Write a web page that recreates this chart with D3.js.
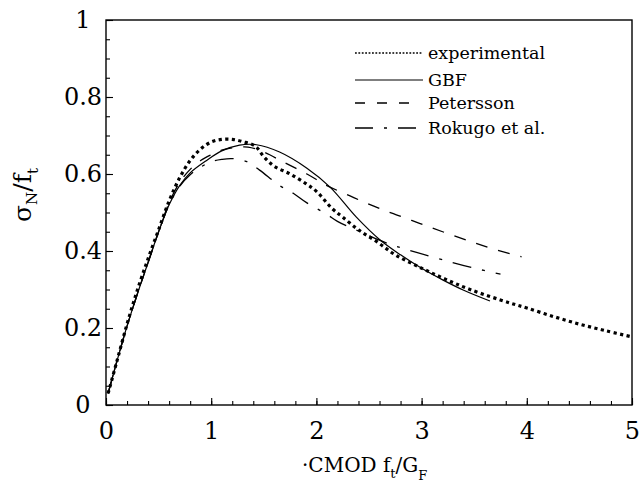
<!DOCTYPE html>
<html>
<head>
<meta charset="utf-8">
<script src="https://cdn.jsdelivr.net/npm/d3@7"></script>
<style>
  html, body { margin: 0; padding: 0; background: #fff; }
  svg { display: block; }
  svg text { font-family: "DejaVu Serif", "Liberation Serif", "Noto Serif", serif; }
</style>
</head>
<body>
<div id="chart"></div>
<script>
// values: [CMOD ft/GF, sigmaN/ft]
const experimental = [
  [0.02, 0.03], [0.1, 0.11], [0.2, 0.21], [0.3, 0.30], [0.4, 0.38], [0.5, 0.455],
  [0.6, 0.53], [0.7, 0.59], [0.8, 0.635], [0.9, 0.665], [1.0, 0.683], [1.1, 0.69],
  [1.2, 0.69], [1.3, 0.684], [1.42, 0.672], [1.5, 0.645], [1.6, 0.62], [1.75, 0.60],
  [1.9, 0.575], [2.0, 0.555], [2.15, 0.51], [2.25, 0.488], [2.4, 0.455], [2.58, 0.423],
  [2.75, 0.39], [2.98, 0.358], [3.2, 0.33], [3.46, 0.30], [3.84, 0.265], [4.0, 0.252],
  [4.25, 0.23], [4.5, 0.21], [4.75, 0.193], [5.0, 0.177]
];
const gbf = [
  [0.02, 0.03], [0.1, 0.11], [0.2, 0.205], [0.3, 0.29], [0.4, 0.37], [0.5, 0.45],
  [0.6, 0.52], [0.7, 0.57], [0.8, 0.603], [0.96, 0.636], [1.1, 0.66], [1.27, 0.675],
  [1.43, 0.676], [1.65, 0.657], [1.91, 0.615], [2.13, 0.566], [2.38, 0.488], [2.6, 0.43],
  [2.8, 0.39], [3.0, 0.355], [3.2, 0.325], [3.4, 0.298], [3.65, 0.27]
];
const petersson = [
  [0.02, 0.03], [0.1, 0.11], [0.2, 0.205], [0.3, 0.29], [0.4, 0.37], [0.5, 0.45],
  [0.6, 0.525], [0.7, 0.578], [0.8, 0.612], [0.9, 0.635], [1.0, 0.65], [1.1, 0.662],
  [1.21, 0.668], [1.35, 0.67], [1.5, 0.657], [1.68, 0.632], [1.91, 0.60], [2.1, 0.57],
  [2.32, 0.543], [2.54, 0.517], [2.76, 0.494], [2.98, 0.472], [3.2, 0.45], [3.43, 0.428],
  [3.65, 0.408], [3.95, 0.385]
];
const rokugo = [
  [0.02, 0.03], [0.1, 0.11], [0.2, 0.205], [0.3, 0.29], [0.4, 0.37], [0.5, 0.45],
  [0.6, 0.52], [0.7, 0.568], [0.8, 0.598], [0.9, 0.618], [1.0, 0.632], [1.1, 0.638],
  [1.2, 0.64], [1.34, 0.632], [1.46, 0.61], [1.65, 0.57], [1.78, 0.55], [1.91, 0.525],
  [2.1, 0.495], [2.2, 0.477], [2.4, 0.452], [2.6, 0.428], [2.76, 0.412], [2.96, 0.396],
  [3.2, 0.377], [3.49, 0.356], [3.75, 0.34]
];

const seriesNames = ['experimental', 'GBF', 'Petersson', 'Rokugo et al.'];
const xTicks = [0, 1, 2, 3, 4, 5];
const yTicks = [0, 0.2, 0.4, 0.6, 0.8, 1];
const yTickLabels = ['0', '0.2', '0.4', '0.6', '0.8', '1'];

const width = 639, height = 489;
const margin = { top: 20, right: 7, bottom: 84, left: 106 };
const W = width - margin.left - margin.right;
const H = height - margin.top - margin.bottom;

const svg = d3.select('#chart').append('svg')
  .attr('width', width).attr('height', height);

const g = svg.append('g').attr('transform', `translate(${margin.left},${margin.top})`);

const x = d3.scaleLinear().domain([0, 5]).range([0, W]);
const y = d3.scaleLinear().domain([0, 1]).range([H, 0]);

// minor ticks
g.append('g').attr('transform', `translate(0,${H})`)
  .call(d3.axisBottom(x).tickValues(d3.range(0, 5.001, 0.2)).tickSize(-4).tickFormat(''))
  .call(a => a.select('.domain').remove());
g.append('g')
  .call(d3.axisLeft(y).tickValues(d3.range(0, 1.001, 0.05)).tickSize(-4).tickFormat(''))
  .call(a => a.select('.domain').remove());

// major ticks + labels
const xAxis = g.append('g').attr('transform', `translate(0,${H})`)
  .call(d3.axisBottom(x).tickValues(xTicks).tickSize(-7).tickPadding(17).tickFormat(d3.format('d')));
xAxis.select('.domain').remove();

const yAxis = g.append('g')
  .call(d3.axisLeft(y).tickValues(yTicks).tickSize(-7).tickPadding(0)
    .tickFormat((d, i) => yTickLabels[i]));
yAxis.select('.domain').remove();
yAxis.selectAll('text').attr('text-anchor', 'middle').attr('x', -23).attr('dy', '0.33em');

svg.selectAll('g').attr('font-family', null);
g.selectAll('.tick text').attr('font-size', '24px').attr('fill', '#000');
g.selectAll('.tick line').attr('stroke', '#000').attr('stroke-width', 1.1);

// frame
g.append('rect')
  .attr('x', 0).attr('y', 0).attr('width', W).attr('height', H)
  .attr('fill', 'none').attr('stroke', '#000').attr('stroke-width', 1.4);

// curves
const line = d3.line()
  .x(d => x(d[0])).y(d => y(d[1]))
  .curve(d3.curveCatmullRom.alpha(0.5));

const styles = [
  { data: experimental, width: 3.2, dash: '3.2,3.4', legendWidth: 1.6, legendDash: '1.8,1.6' },
  { data: gbf, width: 1.2, dash: null, legendWidth: 1.2, legendDash: null },
  { data: petersson, width: 1.3, dash: '12,11', legendWidth: 1.6, legendDash: '10,12' },
  { data: rokugo, width: 1.3, dash: '19,11,3,11', legendWidth: 1.6, legendDash: '18,11,3,11' }
];

styles.forEach(s => {
  g.append('path')
    .datum(s.data)
    .attr('d', line)
    .attr('fill', 'none')
    .attr('stroke', '#000')
    .attr('stroke-width', s.width)
    .attr('stroke-dasharray', s.dash);
});

// legend
const legend = svg.append('g').attr('transform', 'translate(355,53)');
seriesNames.forEach((name, i) => {
  const row = legend.append('g').attr('transform', `translate(0,${[0, 27, 50, 75][i]})`);
  row.append('line')
    .attr('x1', 0).attr('x2', i === 2 ? 55 : 68)
    .attr('y1', 0).attr('y2', 0)
    .attr('stroke', '#000')
    .attr('stroke-width', styles[i].legendWidth)
    .attr('stroke-dasharray', styles[i].legendDash);
  row.append('text')
    .attr('x', 73).attr('y', 6)
    .attr('font-size', '17.5px')
    .text(name);
});

// x label
const xl = svg.append('text')
  .attr('x', 302).attr('y', 472)
  .attr('font-size', '20px');
xl.append('tspan').text('\u00B7CMOD f');
xl.append('tspan').attr('font-size', '13px').attr('dy', 6).text('t');
xl.append('tspan').attr('dy', -6).text('/G');
xl.append('tspan').attr('font-size', '13px').attr('dy', 8).text('F');

// y label
const yl = svg.append('text')
  .attr('transform', 'translate(31,195) rotate(-90)')
  .attr('text-anchor', 'middle')
  .attr('font-size', '25px');
yl.append('tspan').text('\u03C3');
yl.append('tspan').attr('font-size', '15px').attr('dy', 6).text('N');
yl.append('tspan').attr('dy', -6).text('/f');
yl.append('tspan').attr('font-size', '15px').attr('dy', 7).text('t');
</script>
</body>
</html>
